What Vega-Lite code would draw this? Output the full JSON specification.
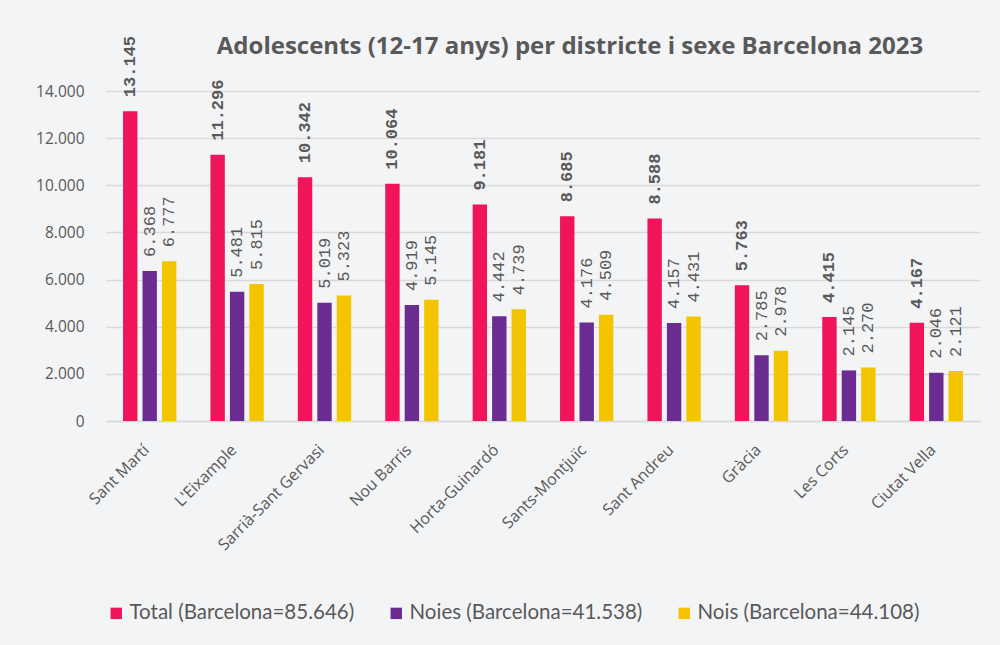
{
  "$schema": "https://vega.github.io/schema/vega-lite/v6.json",
  "width": 874,
  "height": 330,
  "autosize": {"type": "none"},
  "padding": {"left": 106, "top": 91, "right": 20, "bottom": 224},
  "background": "#f3f4f6",
  "config": {
    "locale": {"number": {"decimal": ",", "thousands": ".", "grouping": [3], "currency": ["", " €"]}},
    "view": {"stroke": null},
    "font": "Lato"
  },
  "title": {
    "text": "Adolescents (12-17 anys) per districte i sexe Barcelona 2023",
    "font": "Open Sans",
    "fontSize": 24,
    "fontWeight": "bold",
    "color": "#595959",
    "anchor": "middle",
    "frame": "group",
    "dx": 27,
    "dy": 53,
    "offset": 30
  },
  "data": {
    "values": [
      {"district": "Sant Martí", "serie": "Total (Barcelona=85.646)", "value": 13145},
      {"district": "Sant Martí", "serie": "Noies (Barcelona=41.538)", "value": 6368},
      {"district": "Sant Martí", "serie": "Nois (Barcelona=44.108)", "value": 6777},
      {"district": "L'Eixample", "serie": "Total (Barcelona=85.646)", "value": 11296},
      {"district": "L'Eixample", "serie": "Noies (Barcelona=41.538)", "value": 5481},
      {"district": "L'Eixample", "serie": "Nois (Barcelona=44.108)", "value": 5815},
      {"district": "Sarrià-Sant Gervasi", "serie": "Total (Barcelona=85.646)", "value": 10342},
      {"district": "Sarrià-Sant Gervasi", "serie": "Noies (Barcelona=41.538)", "value": 5019},
      {"district": "Sarrià-Sant Gervasi", "serie": "Nois (Barcelona=44.108)", "value": 5323},
      {"district": "Nou Barris", "serie": "Total (Barcelona=85.646)", "value": 10064},
      {"district": "Nou Barris", "serie": "Noies (Barcelona=41.538)", "value": 4919},
      {"district": "Nou Barris", "serie": "Nois (Barcelona=44.108)", "value": 5145},
      {"district": "Horta-Guinardó", "serie": "Total (Barcelona=85.646)", "value": 9181},
      {"district": "Horta-Guinardó", "serie": "Noies (Barcelona=41.538)", "value": 4442},
      {"district": "Horta-Guinardó", "serie": "Nois (Barcelona=44.108)", "value": 4739},
      {"district": "Sants-Montjuïc", "serie": "Total (Barcelona=85.646)", "value": 8685},
      {"district": "Sants-Montjuïc", "serie": "Noies (Barcelona=41.538)", "value": 4176},
      {"district": "Sants-Montjuïc", "serie": "Nois (Barcelona=44.108)", "value": 4509},
      {"district": "Sant Andreu", "serie": "Total (Barcelona=85.646)", "value": 8588},
      {"district": "Sant Andreu", "serie": "Noies (Barcelona=41.538)", "value": 4157},
      {"district": "Sant Andreu", "serie": "Nois (Barcelona=44.108)", "value": 4431},
      {"district": "Gràcia", "serie": "Total (Barcelona=85.646)", "value": 5763},
      {"district": "Gràcia", "serie": "Noies (Barcelona=41.538)", "value": 2785},
      {"district": "Gràcia", "serie": "Nois (Barcelona=44.108)", "value": 2978},
      {"district": "Les Corts", "serie": "Total (Barcelona=85.646)", "value": 4415},
      {"district": "Les Corts", "serie": "Noies (Barcelona=41.538)", "value": 2145},
      {"district": "Les Corts", "serie": "Nois (Barcelona=44.108)", "value": 2270},
      {"district": "Ciutat Vella", "serie": "Total (Barcelona=85.646)", "value": 4167},
      {"district": "Ciutat Vella", "serie": "Noies (Barcelona=41.538)", "value": 2046},
      {"district": "Ciutat Vella", "serie": "Nois (Barcelona=44.108)", "value": 2121}
    ]
  },
  "encoding": {
    "x": {
      "field": "district",
      "type": "nominal",
      "sort": null,
      "scale": {"paddingInner": 0.39, "paddingOuter": 0.195},
      "axis": {
        "title": null,
        "labelAngle": -45,
        "labelAlign": "right",
        "labelBaseline": "middle",
        "labelFont": "Open Sans",
        "labelFontSize": 16,
        "labelColor": "#595959",
        "labelPadding": 26,
        "labelOffset": -3,
        "ticks": false,
        "domainColor": "#d9d9d9",
        "domainWidth": 1.5
      }
    },
    "xOffset": {
      "field": "serie",
      "type": "nominal",
      "sort": null,
      "scale": {
        "domain": ["Total (Barcelona=85.646)", "Noies (Barcelona=41.538)", "Nois (Barcelona=44.108)"],
        "paddingInner": 0.26,
        "paddingOuter": 0
      }
    },
    "y": {
      "field": "value",
      "type": "quantitative",
      "scale": {"domain": [0, 14000]},
      "axis": {
        "title": null,
        "values": [0, 2000, 4000, 6000, 8000, 10000, 12000, 14000],
        "format": ",.0f",
        "labelFont": "Open Sans",
        "labelFontSize": 15.5,
        "labelColor": "#595959",
        "labelPadding": 22,
        "ticks": false,
        "domain": false,
        "gridColor": "#d9d9d9",
        "gridWidth": 1.5
      }
    }
  },
  "layer": [
    {
      "mark": {"type": "bar"},
      "encoding": {
        "color": {
          "field": "serie",
          "type": "nominal",
          "sort": null,
          "scale": {
            "domain": ["Total (Barcelona=85.646)", "Noies (Barcelona=41.538)", "Nois (Barcelona=44.108)"],
            "range": ["#f0145a", "#6a2c91", "#f5c400"]
          },
          "legend": {
            "title": null,
            "orient": "bottom",
            "direction": "horizontal",
            "symbolType": "square",
            "symbolSize": 130,
            "symbolStrokeWidth": 0,
            "labelFont": "Lato",
            "labelFontSize": 20.5,
            "labelLimit": 400,
            "labelColor": "#595959",
            "columnPadding": 31,
            "labelOffset": 3,
            "offset": 50
          }
        }
      }
    },
    {
      "transform": [{"filter": "datum.serie == 'Total (Barcelona=85.646)'"}],
      "mark": {
        "type": "text",
        "angle": -90,
        "align": "left",
        "baseline": "middle",
        "dx": 14,
        "font": "Liberation Mono",
        "fontSize": 17,
        "fontWeight": "bold",
        "color": "#595959"
      },
      "encoding": {
        "text": {"field": "value", "type": "quantitative", "format": ",.0f"}
      }
    },
    {
      "transform": [{"filter": "datum.serie != 'Total (Barcelona=85.646)'"}],
      "mark": {
        "type": "text",
        "angle": -90,
        "align": "left",
        "baseline": "middle",
        "dx": 14,
        "font": "Liberation Mono",
        "fontSize": 17,
        "color": "#595959"
      },
      "encoding": {
        "text": {"field": "value", "type": "quantitative", "format": ",.0f"}
      }
    }
  ]
}
